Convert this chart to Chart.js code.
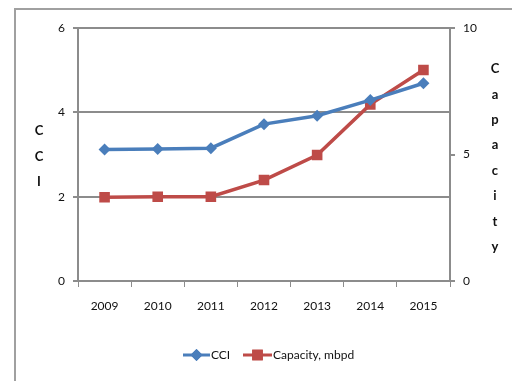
<!DOCTYPE html>
<html>
<head>
<meta charset="utf-8">
<script src="https://cdn.jsdelivr.net/npm/chart.js@4/dist/chart.umd.min.js"></script>
<style>
  html, body { margin:0; padding:0; background:#fff; }
  #wrap { width:512px; height:381px; position:relative; }
</style>
</head>
<body>
<div id="wrap"><canvas id="c" width="512" height="381"></canvas></div>
<script>
const years = ['2009','2010','2011','2012','2013','2014','2015'];
const cci = [3.12, 3.13, 3.15, 3.72, 3.92, 4.29, 4.69];
const capacity = [3.31, 3.33, 3.33, 3.99, 4.98, 6.98, 8.34];
const cciTicks = [0, 2, 4, 6];
const capTicks = [0, 5, 10];

const BLUE = '#4a7ebb', RED = '#be4b48', GRID = '#8c8c8c';
const FONT = 'Lato, "Open Sans", sans-serif';

// frame, stacked axis titles and the legend are drawn by hand
const extras = {
  id: 'extras',
  beforeDraw(chart) {
    const ctx = chart.ctx;
    ctx.save();
    ctx.strokeStyle = '#a0a0a0';
    ctx.lineWidth = 2;
    ctx.strokeRect(15, 9, 600, 600);
    ctx.restore();
  },
  afterDraw(chart) {
    const ctx = chart.ctx;
    ctx.save();
    ctx.fillStyle = '#111';
    ctx.font = 'bold 13px ' + FONT;
    ctx.textAlign = 'center';
    ctx.textBaseline = 'middle';
    'CCI'.split('').forEach((ch, i) => ctx.fillText(ch, 39, 131 + i * 25.5));
    'Capacity'.split('').forEach((ch, i) => ctx.fillText(ch, 495, 69 + i * 25.4));

    // legend
    const ly = 355;
    const items = [
      {x0:183, x1:210, color:BLUE, style:'rectRot', r:6, text:'CCI'},
      {x0:243, x1:272, color:RED, style:'rect', r:7.5, text:'Capacity, mbpd'}
    ];
    ctx.font = '12px ' + FONT;
    ctx.textAlign = 'left';
    items.forEach(it => {
      ctx.strokeStyle = it.color;
      ctx.lineWidth = 3;
      ctx.beginPath();
      ctx.moveTo(it.x0, ly);
      ctx.lineTo(it.x1, ly);
      ctx.stroke();
      ctx.fillStyle = it.color;
      Chart.helpers.drawPoint(ctx, {pointStyle: it.style, radius: it.r, borderWidth: 0}, (it.x0 + it.x1) / 2, ly);
      ctx.fill();
      ctx.fillStyle = '#111';
      ctx.fillText(it.text, it.x1 + 1, ly);
    });
    ctx.restore();
  }
};

new Chart(document.getElementById('c'), {
  type: 'line',
  data: {
    labels: years,
    datasets: [
      {
        label: 'CCI', data: cci, yAxisID: 'y',
        borderColor: BLUE, backgroundColor: BLUE, borderWidth: 3.5,
        pointStyle: 'rectRot', pointRadius: 6, pointBorderWidth: 0,
        tension: 0
      },
      {
        label: 'Capacity, mbpd', data: capacity, yAxisID: 'y1',
        borderColor: RED, backgroundColor: RED, borderWidth: 3.5,
        pointStyle: 'rect', pointRadius: 7.5, pointBorderWidth: 0,
        tension: 0
      }
    ]
  },
  options: {
    responsive: false,
    animation: false,
    layout: { padding: { top: 28, left: 0, right: 0, bottom: 0 } },
    plugins: { legend: { display: false }, tooltip: { enabled: false } },
    scales: {
      x: {
        offset: true,
        grid: { offset: true, drawOnChartArea: false, color: GRID, tickLength: 6, lineWidth: 1 },
        border: { color: GRID, width: 2 },
        ticks: { color: '#111', font: { family: FONT, size: 12 }, padding: 12, maxRotation: 0 },
        afterFit(s) { s.height = 100; }
      },
      y: {
        position: 'left', min: 0, max: 6,
        afterBuildTicks(s) { s.ticks = cciTicks.map(v => ({value: v})); },
        grid: { color: GRID, lineWidth: 2, tickLength: 5 },
        border: { color: GRID, width: 2 },
        ticks: { color: '#111', font: { family: FONT, size: 12 }, padding: 8 },
        afterFit(s) { s.width = 78; }
      },
      y1: {
        position: 'right', min: 0, max: 10,
        afterBuildTicks(s) { s.ticks = capTicks.map(v => ({value: v})); },
        grid: { drawOnChartArea: false, color: GRID, lineWidth: 2, tickLength: 5 },
        border: { color: GRID, width: 2 },
        ticks: { color: '#111', font: { family: FONT, size: 12 }, padding: 8 },
        afterFit(s) { s.width = 62; }
      }
    }
  },
  plugins: [extras]
});
</script>
</body>
</html>
